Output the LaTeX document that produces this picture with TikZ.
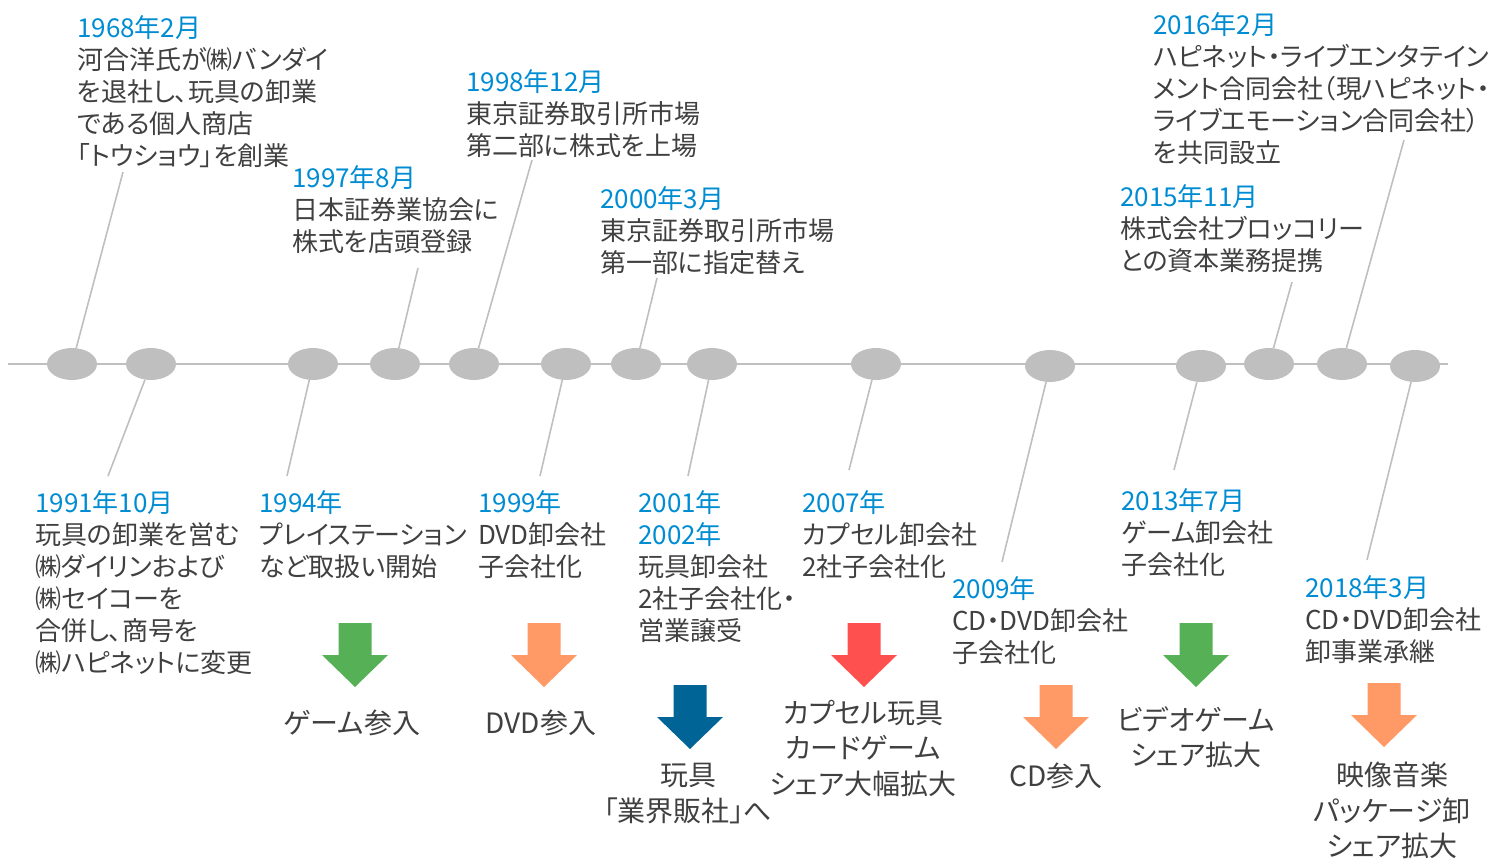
\documentclass[tikz,border=0pt]{standalone}
\usepackage{fontspec}
\setmainfont{Noto Sans CJK JP}[RawFeature=+palt]
\usetikzlibrary{shapes.geometric}
\definecolor{txtgray}{RGB}{64,64,64}
\definecolor{yrblue}{RGB}{0,140,210}
\definecolor{dotgray}{RGB}{191,191,191}
\definecolor{argreen}{RGB}{86,176,86}
\definecolor{arorange}{RGB}{255,153,102}
\definecolor{arred}{RGB}{255,80,80}
\definecolor{arblue}{RGB}{0,100,150}
\newcommand\yr[1]{\textcolor{yrblue}{#1}}
\begin{document}
\begin{tikzpicture}[x=1pt,y=-1pt,
  ev/.style={align=left, anchor=north west, inner sep=0pt, text=txtgray, font=\fontsize{26}{32}\selectfont},
  res/.style={align=center, anchor=north, inner sep=0pt, text=txtgray, font=\fontsize{28}{35.5}\selectfont},
  dot/.style={ellipse, fill=dotgray, minimum width=50pt, minimum height=32pt, inner sep=0pt},
  conn/.style={draw=dotgray, line width=1.6pt},
  downarr/.pic={\path[pic actions] (-16.5,0) -- (16.5,0) -- (16.5,32) -- (33,32) -- (0,64) -- (-33,32) -- (-16.5,32) -- cycle;}]
\useasboundingbox (0,0) rectangle (1505,859);
% timeline
\coordinate (tl0) at (8,364);
\coordinate (tl1) at (1448,364);
\draw[dotgray, line width=2.4pt] (tl0) -- (tl1);
\node[dot] (e1) at (72,364) {};
\node[dot] (e2) at (151,364) {};
\node[dot] (e3) at (313,364) {};
\node[dot] (e4) at (395,364) {};
\node[dot] (e5) at (474,364) {};
\node[dot] (e6) at (566,364) {};
\node[dot] (e7) at (636,364) {};
\node[dot] (e8) at (712,364) {};
\node[dot] (e9) at (876,364) {};
\node[dot] (e10) at (1050,366) {};
\node[dot] (e11) at (1201,366) {};
\node[dot] (e12) at (1269,364) {};
\node[dot] (e13) at (1342,364) {};
\node[dot] (e14) at (1415,366) {};
% upper texts
\node[ev] (t1968) at (77,15) {\yr{1968年2月}\\河合洋氏が㈱バンダイ\\を退社し、玩具の卸業\\である個人商店\\「トウショウ」を創業};
\node[ev] (t1997) at (292,165) {\yr{1997年8月}\\日本証券業協会に\\株式を店頭登録};
\node[ev] (t1998) at (466,69) {\yr{1998年12月}\\東京証券取引所市場\\第二部に株式を上場};
\node[ev] (t2000) at (600,186) {\yr{2000年3月}\\東京証券取引所市場\\第一部に指定替え};
\node[ev] (t2016) at (1153,12) {\yr{2016年2月}\\ハピネット・ライブエンタテイン\\メント合同会社（現ハピネット・\\ライブエモーション合同会社）\\を共同設立};
\node[ev] (t2015) at (1120,184) {\yr{2015年11月}\\株式会社ブロッコリー\\との資本業務提携};
% lower texts
\node[ev] (t1991) at (35,490) {\yr{1991年10月}\\玩具の卸業を営む\\㈱ダイリンおよび\\㈱セイコーを\\合併し、商号を\\㈱ハピネットに変更};
\node[ev] (t1994) at (259,490) {\yr{1994年}\\プレイステーション\\など取扱い開始};
\node[ev] (t1999) at (478,490) {\yr{1999年}\\DVD卸会社\\子会社化};
\node[ev] (t2001) at (638,490) {\yr{2001年}\\\yr{2002年}\\玩具卸会社\\2社子会社化・\\営業譲受};
\node[ev] (t2007) at (802,490) {\yr{2007年}\\カプセル卸会社\\2社子会社化};
\node[ev] (t2009) at (952,576) {\yr{2009年}\\CD・DVD卸会社\\子会社化};
\node[ev] (t2013) at (1121,488) {\yr{2013年7月}\\ゲーム卸会社\\子会社化};
\node[ev] (t2018) at (1305,575) {\yr{2018年3月}\\CD・DVD卸会社\\卸事業承継};
% connector ends
\coordinate (u1) at (123,172);
\coordinate (u4) at (418,268);
\coordinate (u5) at (532,160);
\coordinate (u7) at (657,278);
\coordinate (u12) at (1292,282);
\coordinate (u13) at (1404,140);
\coordinate (d2) at (108,476);
\coordinate (d3) at (287,476);
\coordinate (d6) at (540,476);
\coordinate (d8) at (688,476);
\coordinate (d9) at (849,470);
\coordinate (d10) at (1002,562);
\coordinate (d11) at (1174,470);
\coordinate (d14) at (1367,560);
\draw[conn] (e1) -- (u1);
\draw[conn] (e4) -- (u4);
\draw[conn] (e5) -- (u5);
\draw[conn] (e7) -- (u7);
\draw[conn] (e12) -- (u12);
\draw[conn] (e13) -- (u13);
\draw[conn] (e2) -- (d2);
\draw[conn] (e3) -- (d3);
\draw[conn] (e6) -- (d6);
\draw[conn] (e8) -- (d8);
\draw[conn] (e9) -- (d9);
\draw[conn] (e10) -- (d10);
\draw[conn] (e11) -- (d11);
\draw[conn] (e14) -- (d14);
% arrows
\pic[fill=argreen] (a1) at (355,623) {downarr};
\pic[fill=arorange] (a2) at (544,623) {downarr};
\pic[fill=arblue] (a3) at (690,685) {downarr};
\pic[fill=arred] (a4) at (864,623) {downarr};
\pic[fill=arorange] (a5) at (1056,685) {downarr};
\pic[fill=argreen] (a6) at (1196,623) {downarr};
\pic[fill=arorange] (a7) at (1384,683) {downarr};
% results
\node[res] (r1) at (352,710) {ゲーム参入};
\node[res] (r2) at (541,710) {DVD参入};
\node[res] (r3) at (688,763) {玩具\\「業界販社」へ};
\node[res] (r4) at (863,700) {カプセル玩具\\カードゲーム\\シェア大幅拡大};
\node[res] (r5) at (1056,763) {CD参入};
\node[res] (r6) at (1196,706) {ビデオゲーム\\シェア拡大};
\node[res] (r7) at (1392,762) {映像音楽\\パッケージ卸\\シェア拡大};
\end{tikzpicture}
\end{document}
